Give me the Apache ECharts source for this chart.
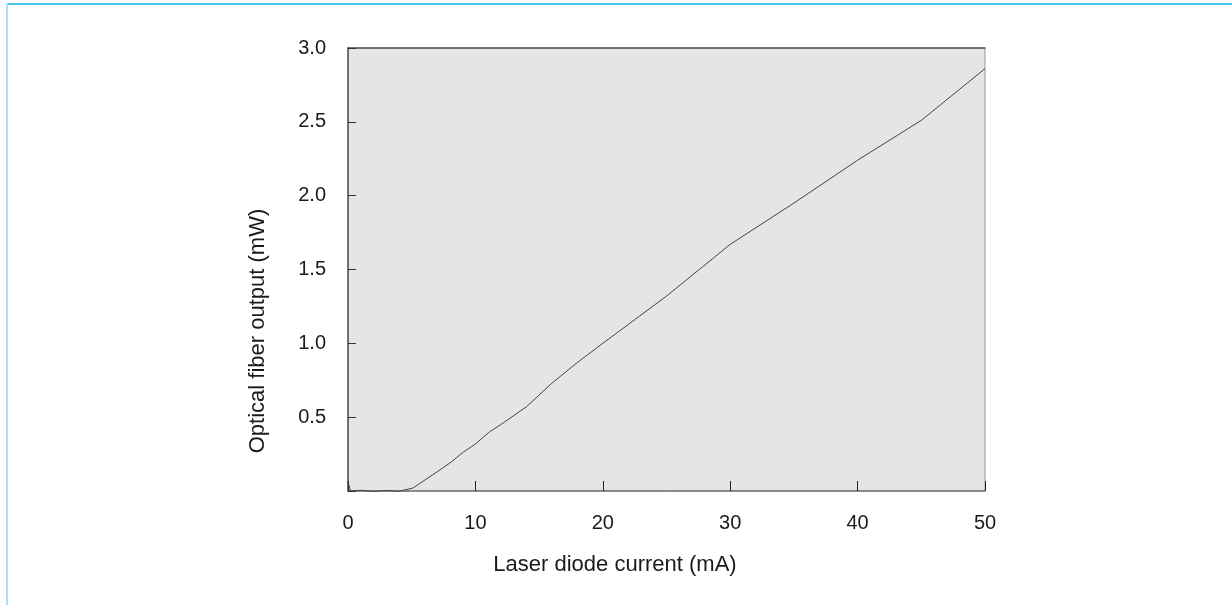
<!DOCTYPE html>
<html>
<head>
<meta charset="utf-8">
<script src="https://cdn.jsdelivr.net/npm/echarts@6/dist/echarts.min.js"></script>
<style>
  html, body { margin: 0; padding: 0; background: #fff; }
  #chart { width: 1232px; height: 605px; }
</style>
</head>
<body>
<div id="chart"></div>
<script>
// laser diode current (mA) vs fibre output (mW)
var current = [0, 0.2, 1, 2, 3, 4, 5.1, 7, 8.1, 9, 10, 11.1, 12, 14, 16, 18, 20, 25, 30, 35, 40, 45, 50];
var power = [0.06, 0.0, 0.005, -0.003, 0.004, -0.002, 0.02, 0.13, 0.196, 0.26, 0.318, 0.4, 0.45, 0.57, 0.73, 0.87, 1.0, 1.32, 1.67, 1.95, 2.24, 2.51, 2.86];
var xTicks = [0, 10, 20, 30, 40, 50];
var yTicks = ['0.5', '1.0', '1.5', '2.0', '2.5', '3.0'];

var chart = echarts.init(document.getElementById('chart'));
var font = 'Liberation Sans, Arial, sans-serif';

var option = {
  animation: false,
  grid: {
    left: 348, top: 48, right: 247, bottom: 114,
    show: true,
    backgroundColor: '#e6e4e5',
    borderColor: '#9a9a9a',
    borderWidth: 1
  },
  xAxis: [{
    type: 'value',
    min: 0, max: 50, interval: 10,
    axisLine: { lineStyle: { color: '#777', width: 1.5 } },
    axisTick: { inside: true, length: 10, lineStyle: { color: '#222' } },
    splitLine: { show: false },
    axisLabel: {
      margin: 22, fontSize: 20, color: '#1a1a1a', fontFamily: font,
      formatter: function (v) { return xTicks.indexOf(v) >= 0 ? String(v) : ''; }
    }
  }, {
    type: 'value', position: 'top',
    min: 0, max: 50,
    axisLine: { show: true, lineStyle: { color: '#555', width: 1.5 } },
    axisTick: { show: false }, axisLabel: { show: false }, splitLine: { show: false }
  }],
  yAxis: {
    type: 'value',
    min: 0, max: 3, interval: 0.5,
    axisLine: { show: true, lineStyle: { color: '#555', width: 1.5 } },
    axisTick: { show: true, inside: true, length: 8, lineStyle: { color: '#333' } },
    splitLine: { show: false },
    axisLabel: {
      margin: 22, fontSize: 20, color: '#1a1a1a', fontFamily: font,
      formatter: function (v) {
        var s = v.toFixed(1);
        return yTicks.indexOf(s) >= 0 ? s : '';
      }
    }
  },
  series: [{
    type: 'line',
    data: current.map(function (c, i) { return [c, power[i]]; }),
    showSymbol: false,
    lineStyle: { color: '#444', width: 1 },
    clip: false
  }],
  graphic: [
    { type: 'rect', shape: { x: 6, y: 3, width: 1226, height: 2 }, style: { fill: '#4cc6ec' } },
    { type: 'rect', shape: { x: 6, y: 3, width: 2, height: 602 }, style: { fill: '#a8e0f5' } },
    {
      type: 'text', x: 615, y: 565,
      style: { text: 'Laser diode current (mA)', font: '22px ' + font, fill: '#1a1a1a', align: 'center', verticalAlign: 'middle' }
    },
    {
      type: 'text', x: 258, y: 331, rotation: Math.PI / 2,
      style: { text: 'Optical fiber output (mW)', font: '22px ' + font, fill: '#1a1a1a', align: 'center', verticalAlign: 'middle' }
    }
  ]
};
chart.setOption(option);
</script>
</body>
</html>
